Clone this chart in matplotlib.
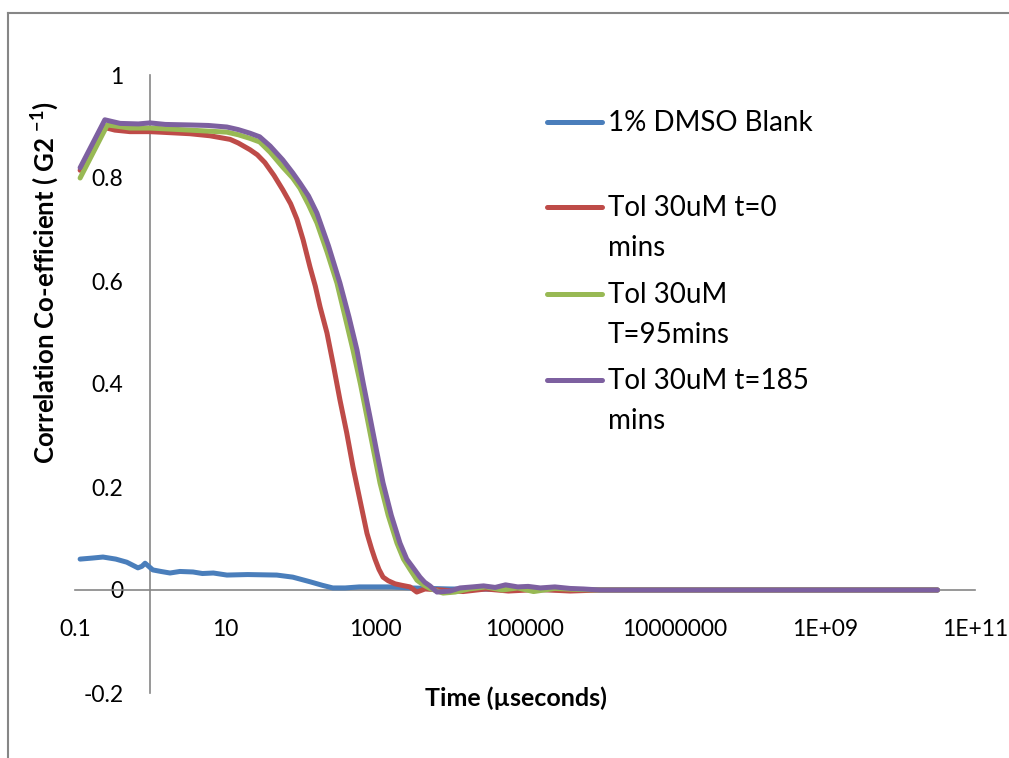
import matplotlib
matplotlib.use('Agg')
import matplotlib.pyplot as plt
from matplotlib.lines import Line2D
from matplotlib.ticker import FixedLocator, FixedFormatter, NullLocator

plt.rcParams['font.family'] = ['Lato', 'DejaVu Sans']
plt.rcParams['mathtext.fontset'] = 'custom'
plt.rcParams['mathtext.rm'] = 'Lato'
plt.rcParams['mathtext.bf'] = 'Lato:bold'

# Series data (time in microseconds)
blank_t = [0.117, 0.17, 0.236, 0.35, 0.49, 0.69, 0.78, 0.86, 1.09, 1.4, 1.85, 2.5,
           3.74, 5.0, 7.0, 10.6, 20, 49, 80, 136, 200, 274, 400, 617, 1660, 3000,
           1e4, 1e5, 1e6, 1e8, 3.16e10]
blank_g = [0.060, 0.062, 0.064, 0.060, 0.054, 0.043, 0.046, 0.052, 0.039, 0.036, 0.033, 0.036,
           0.035, 0.032, 0.033, 0.029, 0.030, 0.029, 0.025, 0.016, 0.009, 0.004, 0.004, 0.006,
           0.006, 0.004, 0.002, 0.001, 0.0, 0.0, 0.0]

t0_t = [0.117, 0.25, 0.34, 0.54, 1.0, 1.85, 3.4, 6.3, 11.7, 15, 21.5, 27, 34, 45, 59, 75,
        91, 110, 136, 160, 185, 229, 280, 341, 420, 509, 640, 782, 900, 1000, 1130, 1280,
        1500, 1850, 2300, 2930, 3600, 4640, 7500, 1.5e4, 3e4, 6e4, 1.5e5, 4e5, 1e6, 1e8,
        3.16e10]
t0_g = [0.815, 0.898, 0.893, 0.890, 0.890, 0.888, 0.886, 0.882, 0.875, 0.868, 0.855, 0.845,
        0.830, 0.805, 0.777, 0.750, 0.720, 0.680, 0.627, 0.590, 0.550, 0.499, 0.435, 0.369,
        0.305, 0.239, 0.170, 0.110, 0.080, 0.060, 0.040, 0.025, 0.018, 0.012, 0.009, 0.006,
        -0.004, 0.002, 0.000, -0.003, 0.002, -0.002, 0.001, -0.002, 0.0, 0.0, 0.0]

t95_t = [0.117, 0.27, 0.54, 1.0, 3.4, 10.6, 15, 21.5, 29, 40, 59, 80, 100, 130, 168, 230,
         311, 400, 509, 640, 782, 960, 1166, 1500, 1963, 2400, 2930, 3630, 4400, 5400,
         8070, 11660, 18000, 3e4, 5e4, 8e4, 1.3e5, 2.5e5, 5e5, 1e6, 1e8, 3.16e10]
t95_g = [0.800, 0.903, 0.897, 0.897, 0.893, 0.889, 0.884, 0.877, 0.870, 0.850, 0.821, 0.800,
         0.780, 0.748, 0.713, 0.656, 0.596, 0.530, 0.466, 0.400, 0.336, 0.270, 0.208, 0.145,
         0.091, 0.060, 0.040, 0.019, 0.010, 0.003, -0.006, -0.004, 0.002, 0.006, 0.000,
         0.004, -0.003, 0.003, 0.001, 0.0, 0.0, 0.0]

t185_t = [0.117, 0.25, 0.40, 0.70, 1.0, 1.6, 3.4, 6.0, 10.6, 15, 21.5, 29, 40, 59, 80, 100,
          130, 168, 240, 341, 450, 575, 700, 857, 1050, 1280, 1650, 2154, 2650, 3160, 3981,
          4600, 5400, 6700, 10000, 13600, 2e4, 2.8e4, 4e4, 5.5e4, 8e4, 1.1e5, 1.6e5, 2.5e5,
          4e5, 6e5, 1e6, 1e8, 3.16e10]
t185_g = [0.820, 0.913, 0.906, 0.905, 0.907, 0.904, 0.903, 0.902, 0.899, 0.894, 0.887, 0.880,
          0.862, 0.835, 0.810, 0.790, 0.765, 0.732, 0.668, 0.596, 0.530, 0.466, 0.400, 0.336,
          0.270, 0.208, 0.145, 0.091, 0.060, 0.045, 0.025, 0.015, 0.008, -0.004, -0.002,
          0.004, 0.006, 0.008, 0.005, 0.010, 0.006, 0.007, 0.004, 0.006, 0.003, 0.002, 0.0,
          0.0, 0.0]

labels = ['1% DMSO Blank', 'Tol 30uM t=0\nmins', 'Tol 30uM\nT=95mins', 'Tol 30uM t=185\nmins']
colors = ['#4A7EBB', '#BE4B48', '#98B954', '#7D60A0']

xticks = [0.1, 10, 1e3, 1e5, 1e7, 1e9, 1e11]
xtick_labels = ['0.1', '10', '1000', '100000', '10000000', '1E+09', '1E+11']
yticks = [-0.2, 0, 0.2, 0.4, 0.6, 0.8, 1]
ytick_labels = ['-0.2', '0', '0.2', '0.4', '0.6', '0.8', '1']

W, H = 1009, 758
fig = plt.figure(figsize=(W / 100, H / 100), dpi=100)
ax = fig.add_axes([75 / W, (H - 693) / H, 900 / W, 618 / H])

series = [(blank_t, blank_g), (t0_t, t0_g), (t95_t, t95_g), (t185_t, t185_g)]
for (t, g), c in zip(series, colors):
    ax.plot(t, g, color=c, lw=3.6, solid_capstyle='round', solid_joinstyle='round', zorder=3)

ax.set_xscale('log')
ax.set_xlim(0.1, 1e11)
ax.set_ylim(-0.2, 1)

ax.xaxis.set_major_locator(FixedLocator(xticks))
ax.xaxis.set_major_formatter(FixedFormatter(xtick_labels))
ax.xaxis.set_minor_locator(NullLocator())
ax.yaxis.set_major_locator(FixedLocator(yticks))
ax.yaxis.set_major_formatter(FixedFormatter(ytick_labels))

for s in ['top', 'right']:
    ax.spines[s].set_visible(False)
ax.spines['bottom'].set_position(('data', 0))
ax.spines['left'].set_position(('data', 1))
for s in ['bottom', 'left']:
    ax.spines[s].set_color('#868686')
    ax.spines[s].set_linewidth(1.2)
    ax.spines[s].set_zorder(2)
ax.tick_params(axis='x', length=0, pad=21, labelsize=16.5)
ax.tick_params(axis='y', length=0, pad=19, labelsize=16.5)
ax.patch.set_alpha(0)

# axis titles
fig.text(516 / W, 1 - 698 / H, 'Time (\u00b5seconds)', ha='center', va='center',
         fontsize=18, fontweight='bold')
fig.text(45 / W, 1 - 283 / H, 'Correlation Co-efficient ( G2 $\\mathbf{^{-1}}$)',
         ha='center', va='center', rotation=90, fontsize=18.5, fontweight='bold')

# legend, Excel style (handle level with first line of text)
leg_y = [122, 207, 294, 380]
for lab, c, y in zip(labels, colors, leg_y):
    fig.add_artist(Line2D([547 / W, 602 / W], [1 - y / H, 1 - y / H], color=c, lw=3.6,
                          solid_capstyle='round'))
    for i, line in enumerate(lab.split('\n')):
        fig.text(608 / W, 1 - (y + 1 + 40 * i) / H, line, ha='left', va='center', fontsize=20)

# chart area border (cropped at right and bottom)
fig.add_artist(Line2D([8 / W, 8 / W], [0, 1 - 13 / H], color='#868686', lw=1.5))
fig.add_artist(Line2D([8 / W, 1], [1 - 13 / H, 1 - 13 / H], color='#868686', lw=1.5))

fig.savefig('out.png', dpi=100)
